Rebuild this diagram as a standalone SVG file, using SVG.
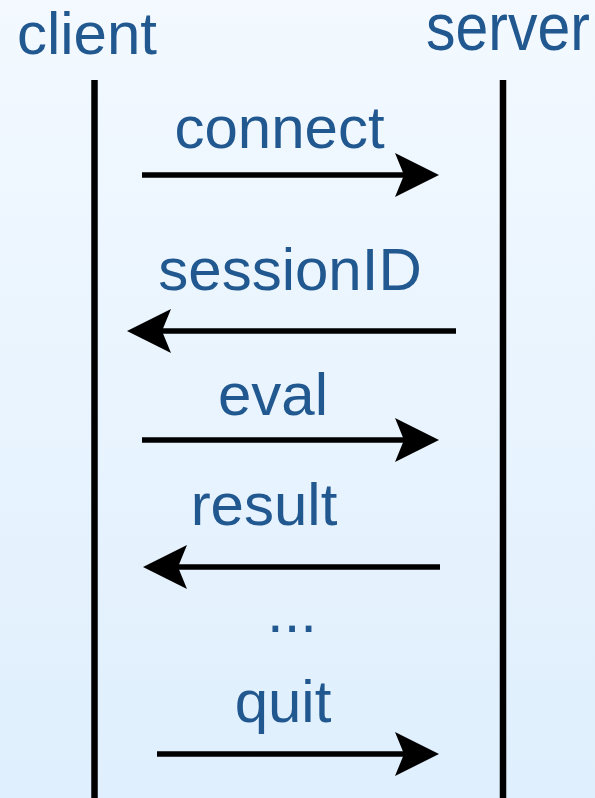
<svg xmlns="http://www.w3.org/2000/svg" width="595" height="798" viewBox="0 0 595 798">
  <defs>
    <linearGradient id="bg" x1="0" y1="0" x2="0" y2="1">
      <stop offset="0" stop-color="#f3f9ff"/>
      <stop offset="1" stop-color="#dfeffd"/>
    </linearGradient>
    <!-- notched arrowhead; the line ends at the notch, tip sits 35px further on -->
    <marker id="head" markerUnits="userSpaceOnUse" viewBox="-10 -23 46 46" markerWidth="46" markerHeight="46" refX="0" refY="0" orient="auto" overflow="visible">
      <path d="M35,0 L-9,-22 L0,0 L-9,22 Z" fill="#000"/>
    </marker>
    <style>
      .label { font-family: "Liberation Sans", Arial, sans-serif; font-size: 60px; fill: #21588f; text-anchor: middle; }
      .life { stroke: #000; stroke-width: 6.5; }
      .msg { stroke: #000; stroke-width: 5.5; fill: none; marker-end: url(#head); }
    </style>
  </defs>

  <rect x="0" y="0" width="595" height="798" fill="url(#bg)"/>

  <g id="client">
    <text class="label" x="87" y="54">client</text>
    <line class="life" x1="94.5" y1="80" x2="94.5" y2="798"/>
  </g>

  <g id="server">
    <text class="label" transform="translate(508 50) scale(1 1.12)" x="0" y="0" style="font-size:59px">server</text>
    <line class="life" x1="503" y1="80" x2="503" y2="798"/>
  </g>

  <g id="connectors">
    <line class="msg" x1="142" y1="175" x2="404" y2="175"/>
    <line class="msg" x1="456" y1="331" x2="162" y2="331"/>
    <line class="msg" x1="142" y1="440" x2="404" y2="440"/>
    <line class="msg" x1="440" y1="567" x2="178" y2="567"/>
    <line class="msg" x1="157" y1="754" x2="404" y2="754"/>
  </g>

  <g id="labels">
    <text class="label" x="279.5" y="148">connect</text>
    <text class="label" x="290" y="290">sessionID</text>
    <text class="label" x="273" y="415">eval</text>
    <text class="label" x="264" y="525">result</text>
    <text class="label" x="292" y="632">...</text>
    <text class="label" x="283" y="722">quit</text>
  </g>
</svg>
